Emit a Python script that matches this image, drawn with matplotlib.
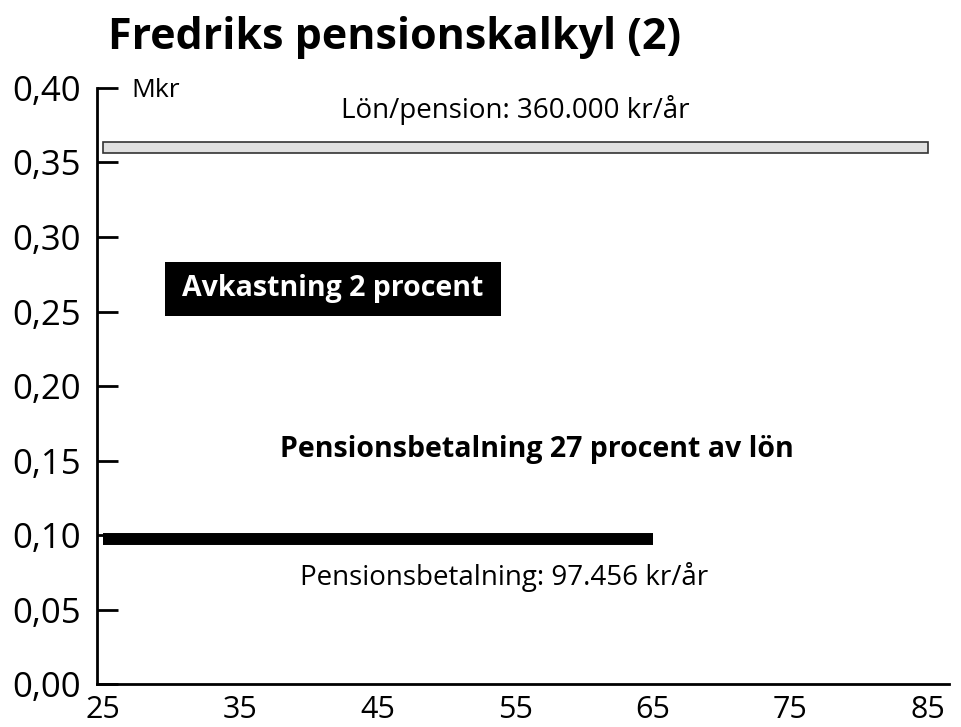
import matplotlib
matplotlib.use("Agg")
import matplotlib.pyplot as plt
from matplotlib.patches import Rectangle

plt.rcParams['font.family'] = ['Open Sans', 'DejaVu Sans']

# data (Mkr per år, ålder)
lon_start, lon_slut = 25, 85
lon_pension = 0.360
bet_start, bet_slut = 25, 65
pensionsbetalning = 0.0975

x_ticks = [25, 35, 45, 55, 65, 75, 85]
y_ticks = [0.00, 0.05, 0.10, 0.15, 0.20, 0.25, 0.30, 0.35, 0.40]
y_labels = [f"{v:.2f}".replace(".", ",") for v in y_ticks]

fig = plt.figure(figsize=(9.61, 7.27), dpi=100)
ax = fig.add_axes([0.101, 0.059, 0.886, 0.820])

# lön/pension som ljusgrå stapel
ax.add_patch(Rectangle((lon_start, lon_pension - 0.0035), lon_slut - lon_start, 0.0075,
                       facecolor='#e0e0e0', edgecolor='#333333', linewidth=1.2))
# pensionsbetalning som tjock svart linje
ax.plot([bet_start, bet_slut], [pensionsbetalning, pensionsbetalning],
        color='black', linewidth=8.6, solid_capstyle='butt')

ax.set_xlim(24.6, 86.5)
ax.set_ylim(0, 0.40)
ax.set_xticks(x_ticks)
ax.set_yticks(y_ticks)
ax.set_yticklabels(y_labels)

for s in ['top', 'right']:
    ax.spines[s].set_visible(False)
ax.spines['left'].set_linewidth(2)
ax.spines['bottom'].set_linewidth(2)
ax.tick_params(axis='y', direction='in', length=15, width=2, pad=12, labelsize=25)
ax.tick_params(axis='x', length=0, pad=8, labelsize=22)

fig.text(0.112, 0.949, "Fredriks pensionskalkyl (2)", fontsize=31, fontweight='bold',
         ha='left', va='center')
ax.text(27.1, 0.3985, "Mkr", fontsize=19, ha='left', va='center')
ax.text(55.0, 0.385, "Lön/pension: 360.000 kr/år", fontsize=20, ha='center', va='center')

# svart ruta bakom rubriken för avkastning
ax.add_patch(Rectangle((29.52, 0.2472), 53.99 - 29.52, 0.2834 - 0.2472,
                       facecolor='black', edgecolor='none'))
ax.text(41.75, 0.2653, "Avkastning 2 procent", fontsize=20.5, fontweight='bold', color='white',
        ha='center', va='center')
ax.text(56.6, 0.1574, "Pensionsbetalning 27 procent av lön", fontsize=20.5, fontweight='bold',
        ha='center', va='center')
ax.text(54.17, 0.0716, "Pensionsbetalning: 97.456 kr/år", fontsize=20, ha='center', va='center')

fig.savefig("out.png", dpi=100)
